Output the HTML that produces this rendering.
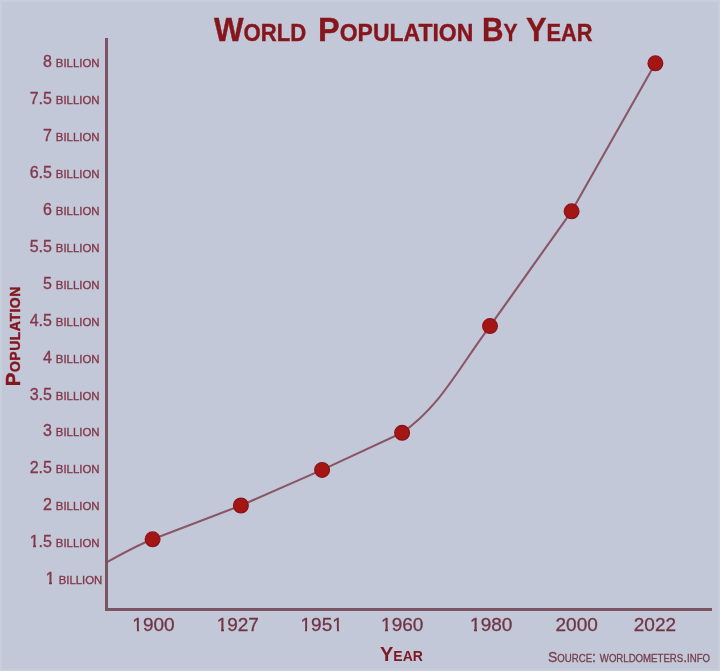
<!DOCTYPE html>
<html><head><meta charset="utf-8">
<style>
html,body{margin:0;padding:0;background:#c3c8d8;}
#wrap{position:absolute;left:0;top:0;width:720px;height:671px;filter:blur(0.35px);}
body{width:720px;height:671px;background:#c3c8d8;position:relative;overflow:hidden;font-family:"Liberation Sans",sans-serif;}
.t{position:absolute;white-space:nowrap;line-height:1;}
.w{position:absolute;top:12px;font-size:34px;font-weight:bold;color:#85161c;font-variant:small-caps;white-space:nowrap;line-height:1;transform-origin:0 0;-webkit-text-stroke:0.4px #85161c;}
.yl{position:absolute;right:620.5px;font-size:16px;color:#83384a;white-space:nowrap;line-height:1;-webkit-text-stroke:0.35px #83384a;}
.yl .b{font-size:11.4px;margin-left:-0.6px;}
.xl{position:absolute;top:615px;font-size:19px;color:#703443;-webkit-text-stroke:0.3px #703443;white-space:nowrap;line-height:1;width:60px;text-align:center;}
#pop{position:absolute;left:-37px;top:325.5px;-webkit-text-stroke:0.4px #80151e;width:100px;text-align:center;transform:rotate(-90deg);font-size:20.5px;letter-spacing:0.5px;font-weight:bold;color:#85161c;font-variant:small-caps;white-space:nowrap;line-height:1;}
#year{left:380px;top:644px;font-size:20px;font-weight:bold;color:#7e1824;font-variant:small-caps;}
#src{left:547.5px;top:649.5px;font-size:14.5px;transform:scaleX(0.962);transform-origin:0 0;color:#76404f;-webkit-text-stroke:0.3px #76404f;font-variant:small-caps;}
svg{position:absolute;left:0;top:0;}
.one{position:relative;}
.one::before,.one::after{content:"";position:absolute;background:#c3c8d8;bottom:calc(0.212em - 1px);height:calc(0.075em + 1.3px);}
.one::before{left:0.02em;width:calc(0.231em - 0.4px);}
.one::after{left:calc(0.34em + 0.4px);width:0.2em;}

</style></head><body><div id="wrap">
<svg width="720" height="671" viewBox="0 0 720 671">
<rect x="1" y="1" width="718" height="669" fill="none" stroke="#c9cedd" stroke-width="2"/>
<path id="curve" d="M107,562.2 C122,553.8 137.6,545.3 152.6,539.3 L240.9,505.5 L322.1,469.9 L402.1,432.8 C440.1,406.2 456.1,371.9 490,326.1 L571.6,211.3 L655.4,63.3" fill="none" stroke="#8a5666" stroke-width="2.1" stroke-linejoin="round"/>
<path d="M106.5,38 V609.5 H712" fill="none" stroke="#7a5463" stroke-width="3"/>
<g fill="#a31614" stroke="#88131a" stroke-width="1.2">
<circle cx="152.6" cy="539.3" r="7.4"/>
<circle cx="240.9" cy="505.5" r="7.4"/>
<circle cx="322.1" cy="469.9" r="7.4"/>
<circle cx="402.1" cy="432.8" r="7.4"/>
<circle cx="490" cy="326.1" r="7.4"/>
<circle cx="571.6" cy="211.3" r="7.4"/>
<circle cx="655.4" cy="63.3" r="7.4"/>
</g>
</svg>
<div class="w" style="left:214px;transform:scaleX(0.922)">World</div>
<div class="w" style="left:318px;transform:scaleX(0.957)">Population</div>
<div class="w" style="left:482px;transform:scaleX(0.875)">By</div>
<div class="w" style="left:525.5px;transform:scaleX(0.906)">Year</div>
<div class="yl" style="top:54.4px">8 <span class="b">BILLION</span></div>
<div class="yl" style="top:91.3px">7.5 <span class="b">BILLION</span></div>
<div class="yl" style="top:128.2px">7 <span class="b">BILLION</span></div>
<div class="yl" style="top:165.1px">6.5 <span class="b">BILLION</span></div>
<div class="yl" style="top:202.0px">6 <span class="b">BILLION</span></div>
<div class="yl" style="top:238.9px">5.5 <span class="b">BILLION</span></div>
<div class="yl" style="top:275.8px">5 <span class="b">BILLION</span></div>
<div class="yl" style="top:312.7px">4.5 <span class="b">BILLION</span></div>
<div class="yl" style="top:349.6px">4 <span class="b">BILLION</span></div>
<div class="yl" style="top:386.5px">3.5 <span class="b">BILLION</span></div>
<div class="yl" style="top:423.4px">3 <span class="b">BILLION</span></div>
<div class="yl" style="top:460.3px">2.5 <span class="b">BILLION</span></div>
<div class="yl" style="top:497.2px">2 <span class="b">BILLION</span></div>
<div class="yl" style="top:534.1px"><span class="one">1</span>.5 <span class="b">BILLION</span></div>
<div class="yl" style="top:571.0px;right:617.7px"><span class="one">1</span> <span class="b">BILLION</span></div>
<div class="xl" style="left:123.5px"><span class="one">1</span>900</div>
<div class="xl" style="left:207.8px"><span class="one">1</span>927</div>
<div class="xl" style="left:291.7px"><span class="one">1</span>95<span class="one">1</span></div>
<div class="xl" style="left:372.2px"><span class="one">1</span>960</div>
<div class="xl" style="left:461.2px"><span class="one">1</span>980</div>
<div class="xl" style="left:546.7px">2000</div>
<div class="xl" style="left:624.9px">2022</div>
<div id="pop">Population</div>
<div id="year" class="t">Year</div>
<div id="src" class="t">Source: worldometers.info</div>
</div></body></html>
